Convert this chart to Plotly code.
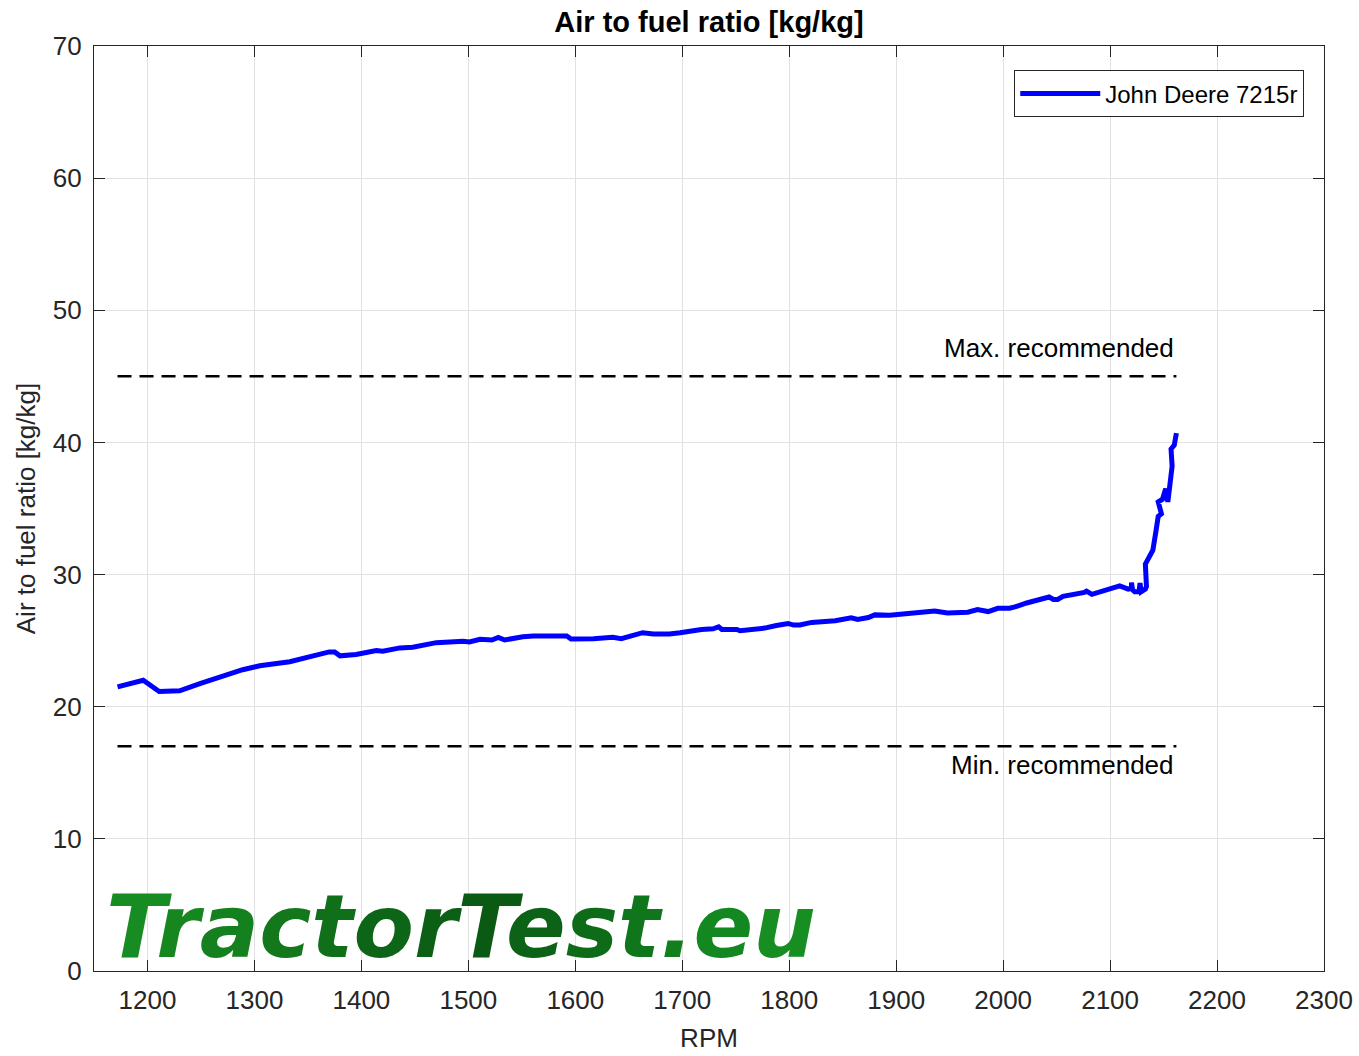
import plotly.graph_objects as go

# ---- data ----
rpm = [1172, 1196, 1211, 1230, 1249, 1255, 1289, 1305, 1333, 1355, 1370, 1375, 1380, 1395,
       1414, 1420, 1436, 1448, 1470, 1495, 1501, 1511, 1522, 1528, 1534, 1551, 1561, 1592,
       1596, 1617, 1635, 1643, 1651, 1663, 1673, 1688, 1698, 1707, 1718, 1729, 1734, 1737,
       1751, 1754, 1766, 1777, 1788, 1799, 1804, 1810, 1821, 1843, 1858, 1864, 1874, 1880,
       1894, 1925, 1936, 1948, 1967, 1976, 1986, 1995, 2006, 2011, 2022, 2043, 2047, 2051,
       2056, 2076, 2078, 2083, 2109, 2117, 2120, 2120, 2121, 2123, 2127, 2128, 2129, 2133,
       2134, 2133, 2137, 2140, 2143, 2145, 2148, 2145, 2149, 2152, 2154, 2156, 2158, 2157,
       2160, 2162]
afr = [21.5, 22.0, 21.15, 21.2, 21.75, 21.9, 22.8, 23.1, 23.4, 23.85, 24.15, 24.15, 23.85, 23.95,
       24.25, 24.2, 24.45, 24.5, 24.85, 24.95, 24.9, 25.1, 25.05, 25.25, 25.05, 25.3, 25.35, 25.35,
       25.12, 25.15, 25.25, 25.15, 25.35, 25.6, 25.5, 25.5, 25.6, 25.75, 25.85, 25.9, 26.05, 25.85,
       25.85, 25.75, 25.85, 25.95, 26.15, 26.3, 26.18, 26.18, 26.38, 26.5, 26.72, 26.6, 26.75, 26.95,
       26.92, 27.1, 27.25, 27.1, 27.15, 27.35, 27.2, 27.45, 27.45, 27.55, 27.85, 28.3, 28.12, 28.12,
       28.35, 28.65, 28.75, 28.5, 29.15, 28.9, 28.95, 29.4, 28.85, 28.7, 28.7, 29.35, 28.7, 28.9,
       29.1, 30.8, 31.35, 31.85, 33.35, 34.4, 34.6, 35.5, 35.7, 36.5, 35.5, 36.9, 38.2, 39.5,
       39.8, 40.7]

series_name = "John Deere 7215r"
limit_x = [1172, 2162]
max_recommended = 45
min_recommended = 17
x_ticks = [1200, 1300, 1400, 1500, 1600, 1700, 1800, 1900, 2000, 2100, 2200, 2300]
y_ticks = [0, 10, 20, 30, 40, 50, 60, 70]

FONT = "Liberation Sans, Arial, sans-serif"
LOGO_FONT = "DejaVu Sans, sans-serif"
AX = "#262626"

fig = go.Figure()
fig.add_trace(go.Scatter(x=limit_x, y=[max_recommended] * 2, mode="lines",
                         line=dict(color="black", width=2.5, dash="14px,8px"),
                         showlegend=False, hoverinfo="skip"))
fig.add_trace(go.Scatter(x=limit_x, y=[min_recommended] * 2, mode="lines",
                         line=dict(color="black", width=2.5, dash="14px,8px"),
                         showlegend=False, hoverinfo="skip"))
fig.add_trace(go.Scatter(x=rpm, y=afr, mode="lines", name=series_name,
                         line=dict(color="#0000ff", width=5)))

fig.add_annotation(x=limit_x[1], y=max_recommended, text="Max. recommended", showarrow=False,
                   xanchor="right", yanchor="bottom", yshift=11,
                   font=dict(family=FONT, size=26, color="black"))
fig.add_annotation(x=limit_x[1], y=min_recommended, text="Min. recommended", showarrow=False,
                   xanchor="right", yanchor="top", yshift=-2,
                   font=dict(family=FONT, size=26, color="black"))

logo_letters = "TractorTest.eu"
logo_colors = ["#178c22", "#16861f", "#15801e", "#13781c", "#10701a", "#0d6618", "#0b6016",
               "#0a5a14", "#0c6217", "#0e6c19", "#10761c", "#127f1e", "#148820", "#168e22"]
logo_text = "".join(f'<span style="color:{c}">{ch}</span>' for ch, c in zip(logo_letters, logo_colors))
fig.add_annotation(xref="paper", yref="paper", x=0.008, y=0.0, text=f"<b><i>{logo_text}</i></b>",
                   showarrow=False, xanchor="left", yanchor="bottom", yshift=-9,
                   font=dict(family=LOGO_FONT, size=88, color="#10701a"))

axis_common = dict(showline=True, linecolor=AX, linewidth=1.3, mirror="ticks",
                   ticks="inside", ticklen=11, tickcolor=AX, tickwidth=1.3,
                   showgrid=True, gridcolor="#e1e1e1", gridwidth=1, zeroline=False,
                   automargin=False,
                   tickfont=dict(family=FONT, size=26, color=AX), ticklabelstandoff=6)

fig.update_xaxes(range=[1150, 2300], tickvals=x_ticks,
                 title=dict(text="RPM", font=dict(family=FONT, size=26, color=AX), standoff=14),
                 **axis_common)
fig.update_yaxes(range=[0, 70], tickvals=y_ticks,
                 title=dict(text="Air to fuel ratio [kg/kg]", font=dict(family=FONT, size=26, color=AX),
                            standoff=9),
                 **axis_common)

fig.update_layout(
    width=1359, height=1056,
    margin=dict(l=94, r=35, t=46, b=85),
    plot_bgcolor="white", paper_bgcolor="white",
    title=dict(text="<b>Air to fuel ratio [kg/kg]</b>", x=0.5, xanchor="center",
               xref="paper", y=1 - 22 / 1056, yanchor="middle",
               font=dict(family=FONT, size=29, color="black")),
    legend=dict(x=0.9837, y=0.974, xanchor="right", yanchor="top",
                bgcolor="white", bordercolor=AX, borderwidth=1.3,
                font=dict(family=FONT, size=24, color="black"), itemwidth=80),
    showlegend=True,
)

fig.write_html("out.html", config={"displayModeBar": False},
               post_script="document.body.style.margin='0';document.body.style.overflow='hidden';")
